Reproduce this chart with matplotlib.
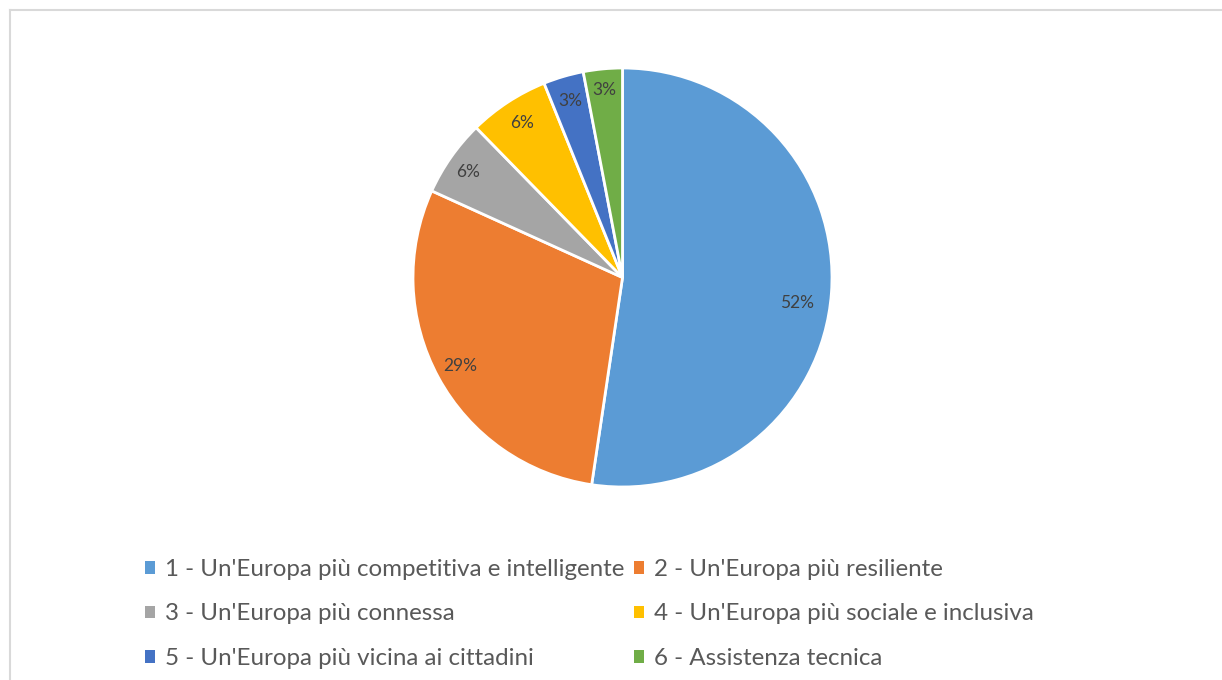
import matplotlib
matplotlib.use("Agg")
import matplotlib.pyplot as plt
from matplotlib.lines import Line2D
from matplotlib.patches import Patch

categories = [
    "1 - Un'Europa più competitiva e intelligente",
    "2 - Un'Europa più resiliente",
    "3 - Un'Europa più connessa",
    "4 - Un'Europa più sociale e inclusiva",
    "5 - Un'Europa più vicina ai cittadini",
    "6 - Assistenza tecnica",
]
values = [52.3, 29.4, 5.9, 6.2, 3.1, 3.0]
colors = ["#5B9BD5", "#ED7D31", "#A5A5A5", "#FFC000", "#4472C4", "#70AD47"]

plt.rcParams['font.family'] = ['Lato', 'DejaVu Sans']

W, H = 1222, 680
fig = plt.figure(figsize=(W / 100, H / 100), dpi=100)
fig.patch.set_facecolor("white")

# frame lines (top and left)
fig.add_artist(Line2D([9.5 / W, 9.5 / W], [0, 1 - 10 / H], transform=fig.transFigure,
                      color="#D9D9D9", lw=1.5))
fig.add_artist(Line2D([9.5 / W, 1], [1 - 10 / H, 1 - 10 / H], transform=fig.transFigure,
                      color="#D9D9D9", lw=1.5))

cx, cy, r = 622.5, 277.5, 209.5
ax = fig.add_axes([(cx - r) / W, (H - cy - r) / H, 2 * r / W, 2 * r / H])
wedges, texts, autotexts = ax.pie(
    values, colors=colors, startangle=90, counterclock=False,
    autopct=lambda p: f"{p:.0f}%", pctdistance=0.88, radius=1,
    wedgeprops=dict(edgecolor="white", linewidth=2),
    textprops=dict(color="#404040", fontsize=12.5),
)
autotexts[0].set_position((0.835, -0.12))
autotexts[2].set_position((-0.735, 0.505))
autotexts[5].set_position((-0.085, 0.895))
ax.set_xlim(-1, 1)
ax.set_ylim(-1, 1)
ax.set_aspect("equal")
ax.axis("off")

handles = [Patch(facecolor=c, edgecolor="none") for c in colors]
order = [0, 2, 4, 1, 3, 5]
leg = fig.legend([handles[i] for i in order], [categories[i] for i in order],
                 ncol=2, loc="upper left", bbox_to_anchor=(145 / W, 1 - 559 / H),
                 frameon=False, fontsize=17.4, handlelength=0.42, handleheight=0.42,
                 handletextpad=0.4, columnspacing=0.42, labelspacing=0.97,
                 borderpad=0, borderaxespad=0)
for t in leg.get_texts():
    t.set_color("#595959")

fig.savefig("out.png", dpi=100, facecolor="white")
